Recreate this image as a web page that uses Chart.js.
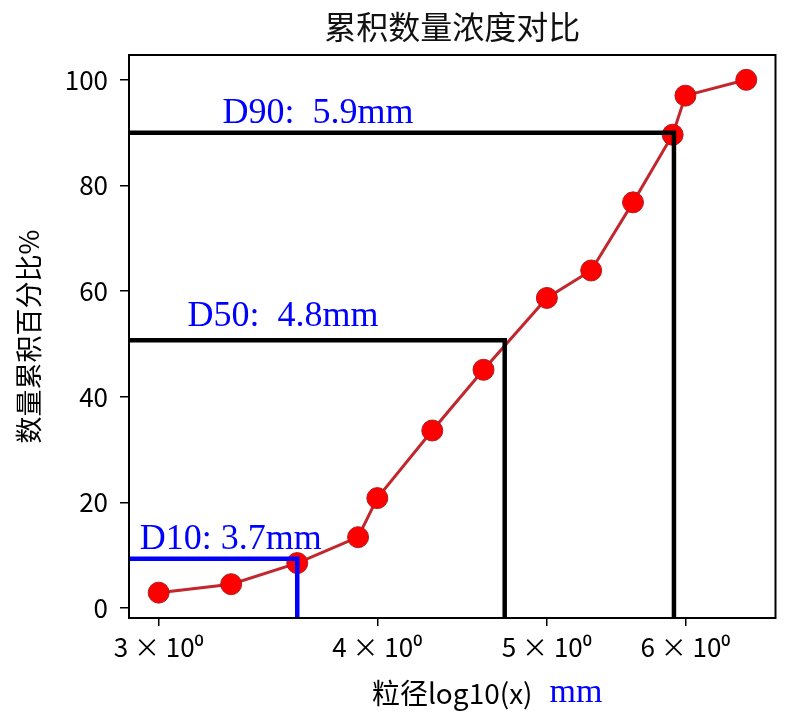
<!DOCTYPE html>
<html><head><meta charset="utf-8">
<script src="https://cdn.jsdelivr.net/npm/chart.js@4.4.1/dist/chart.umd.min.js"></script>
<style>html,body{margin:0;padding:0;background:#fff}#wrap{width:787px;height:719px}</style>
</head><body><div id="wrap"><canvas id="c" width="787" height="719"></canvas></div>
<script>
// ---- data ----
const sizes = [3.0, 3.3, 3.6, 3.9, 4.0, 4.3, 4.6, 5.0, 5.3, 5.6, 5.9, 6.0, 6.5];
const cumulative = [2.9, 4.5, 8.5, 13.4, 20.8, 33.6, 45.1, 58.7, 63.9, 76.8, 89.6, 97.0, 100];
const xTicks = [3, 4, 5, 6];
const xTickLabels = ['3 × 10⁰', '4 × 10⁰', '5 × 10⁰', '6 × 10⁰'];
const yTicks = [0, 20, 40, 60, 80, 100];
const xRange = [2.885, 6.755];
const yRange = [-1.9, 104.7];
const dSizes = [3.6, 4.73, 5.91];
const dPercents = [9.3, 50.7, 90];
const dLabels = ['D10: 3.7mm', 'D50:  4.8mm', 'D90:  5.9mm'];
const chartTitle = '累积数量浓度对比';

// ---- styling / placement ----
const SANS = '"Noto Sans CJK SC", "Noto Sans", sans-serif';
const SERIF = '"Liberation Serif", "DejaVu Serif", serif';
const dColors = ['#0000ff', '#000000', '#000000'];
const dLabelStyle = [
  { x: 2.926, dy: 10 },
  { x: 3.116, dy: 14.5 },
  { x: 3.263, dy: 9.5 }
];

const series = sizes.map((x, i) => ({ x: x, y: cumulative[i] }));

const dDatasets = dSizes.map((s, i) => ({
  type: 'line',
  data: [{ x: xRange[0], y: dPercents[i] }, { x: s, y: dPercents[i] }, { x: s, y: yRange[0] }],
  borderColor: dColors[i],
  borderWidth: 4.5,
  pointRadius: 0,
  borderCapStyle: 'butt',
  borderJoinStyle: 'miter',
  tension: 0,
  order: 0
}));

const overlay = {
  id: 'overlay',
  afterDraw(chart) {
    const ctx = chart.ctx;
    const a = chart.chartArea;
    const xs = chart.scales.x, ys = chart.scales.y;
    const cx = (a.left + a.right) / 2;
    ctx.save();
    // frame
    ctx.strokeStyle = '#000';
    ctx.lineWidth = 2;
    ctx.strokeRect(a.left, a.top, a.right - a.left, a.bottom - a.top);
    // title centred over the plot area
    ctx.font = '32px ' + SANS;
    ctx.fillStyle = '#111';
    ctx.textAlign = 'center';
    ctx.textBaseline = 'middle';
    ctx.fillText(chartTitle, cx, 27);
    // D labels
    ctx.font = '36px ' + SERIF;
    ctx.fillStyle = '#0000ff';
    ctx.textAlign = 'left';
    ctx.textBaseline = 'alphabetic';
    dLabels.forEach((t, i) => {
      const px = xs.getPixelForValue(dLabelStyle[i].x);
      const py = ys.getPixelForValue(dPercents[i]) - dLabelStyle[i].dy;
      ctx.fillText(t, px, py);
    });
    // unit after x title
    ctx.font = '28px ' + SANS;
    const w = ctx.measureText(xs.options.title.text).width;
    ctx.font = '34px ' + SERIF;
    ctx.fillStyle = '#0000ff';
    ctx.fillText('mm', cx + w / 2 + 17, 702);
    ctx.restore();
  }
};

new Chart(document.getElementById('c'), {
  type: 'line',
  data: {
    datasets: [
      ...dDatasets,
      {
        type: 'line',
        data: series,
        borderColor: '#c1272d',
        borderWidth: 3,
        pointRadius: 10.5,
        pointStyle: 'circle',
        pointBackgroundColor: '#ff0000',
        pointBorderColor: '#b01c20',
        pointBorderWidth: 1,
        tension: 0,
        order: 1
      }
    ]
  },
  options: {
    responsive: false,
    animation: false,
    devicePixelRatio: 1,
    layout: { padding: { left: 0, right: 10, top: 55, bottom: 0 } },
    plugins: {
      legend: { display: false },
      tooltip: { enabled: false },
      title: { display: false }
    },
    scales: {
      x: {
        type: 'logarithmic',
        min: xRange[0],
        max: xRange[1],
        afterBuildTicks: s => { s.ticks = xTicks.map(v => ({ value: v })); },
        afterFit: s => { s.height = 101; },
        ticks: {
          callback: (v, i) => xTickLabels[i],
          color: '#000',
          font: { family: SANS, size: 26 },
          padding: 6,
          autoSkip: false,
          maxRotation: 0
        },
        grid: { drawOnChartArea: false, drawTicks: true, tickLength: 8, color: '#000', lineWidth: 1.5 },
        border: { display: false },
        title: {
          display: true,
          text: '粒径log10(x)',
          color: '#000',
          font: { family: SANS, size: 28 },
          padding: { top: 0, bottom: 9 }
        }
      },
      y: {
        type: 'linear',
        min: yRange[0],
        max: yRange[1],
        afterBuildTicks: s => { s.ticks = yTicks.map(v => ({ value: v })); },
        afterFit: s => { s.width = 129; },
        ticks: {
          callback: v => String(v),
          color: '#000',
          font: { family: SANS, size: 26 },
          padding: 12
        },
        grid: { drawOnChartArea: false, drawTicks: true, tickLength: 9, color: '#000', lineWidth: 1.5 },
        border: { display: false },
        title: {
          display: true,
          text: '数量累积百分比%',
          color: '#000',
          font: { family: SANS, size: 27 },
          padding: { top: 13, bottom: 0 }
        }
      }
    }
  },
  plugins: [overlay]
});
</script>
</body></html>
